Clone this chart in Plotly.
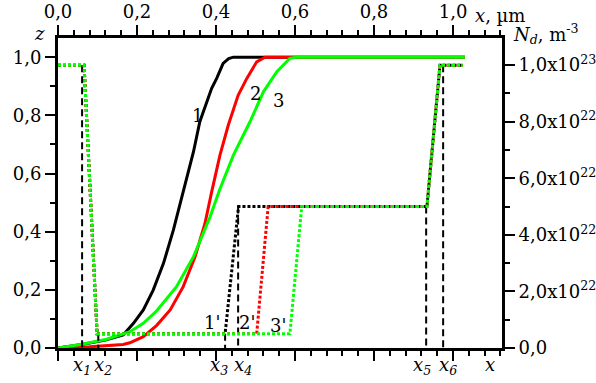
import plotly.graph_objects as go

# z(x) curves (left axis)
x1_curve = [0, 0.06, 0.12, 0.165, 0.191, 0.216, 0.241, 0.267, 0.292, 0.317, 0.343, 0.359, 0.372, 0.389, 0.402, 0.418, 0.432, 0.444, 1.03]
z1_curve = [0, 0.012, 0.027, 0.045, 0.085, 0.131, 0.199, 0.291, 0.405, 0.54, 0.675, 0.778, 0.825, 0.893, 0.928, 0.979, 0.995, 1.0, 1.0]
x2_curve = [0, 0.08, 0.165, 0.182, 0.216, 0.25, 0.284, 0.317, 0.347, 0.372, 0.389, 0.41, 0.431, 0.456, 0.478, 0.503, 0.524, 1.03]
z2_curve = [0, 0.004, 0.012, 0.018, 0.039, 0.078, 0.131, 0.211, 0.314, 0.428, 0.537, 0.663, 0.766, 0.869, 0.927, 0.984, 1.0, 1.0]
x3_curve = [0, 0.064, 0.123, 0.182, 0.216, 0.25, 0.3, 0.343, 0.385, 0.408, 0.444, 0.486, 0.52, 0.554, 0.587, 0.604, 1.03]
z3_curve = [0, 0.014, 0.03, 0.056, 0.085, 0.128, 0.211, 0.314, 0.451, 0.54, 0.663, 0.778, 0.881, 0.95, 0.996, 1.0, 1.0]

# Doping profiles Nd(x) (right axis, m^-3)
xp1 = [0, 0.066, 0.099, 0.423, 0.457, 0.934, 0.967, 1.025]
xp2 = [0, 0.066, 0.099, 0.503, 0.532, 0.934, 0.967, 1.025]
xp3 = [0, 0.066, 0.099, 0.587, 0.617, 0.934, 0.967, 1.025]
nd_prof = [1.0e23, 1.0e23, 5e21, 5e21, 5e22, 5e22, 1.0e23, 1.0e23]

# Marker positions x1..x6 and heights of dashed lines
x_marks = [0.061, 0.102, 0.423, 0.456, 0.932, 0.975]
nd_marks = [1.0e23, 5e21, 5e21, 5e22, 5e22, 1.0e23]
mark_labels = ["1", "2", "3", "4", "5", "6"]
mark_label_x = [0.061, 0.113, 0.408, 0.468, 0.921, 0.988]

curve_labels = ["1", "2", "3"]
curve_label_x = [0.352, 0.499, 0.557]
curve_label_z = [0.80, 0.876, 0.852]
prof_labels = ["1'", "2'", "3'"]
prof_label_x = [0.39, 0.478, 0.557]
prof_label_z = [0.089, 0.086, 0.079]

x_tick_vals = [0, 0.2, 0.4, 0.6, 0.8, 1.0]
y2_vals = [0, 2e22, 4e22, 6e22, 8e22, 1e23]
y2_text = ["0,0", "2,0x10<sup>22</sup>", "4,0x10<sup>22</sup>", "6,0x10<sup>22</sup>",
           "8,0x10<sup>22</sup>", "1,0x10<sup>23</sup>"]

FONT = "DejaVu Serif"
FS = 18
GREEN = "#00ff00"
fig = go.Figure()

# dashed marker lines
for xm, nm in zip(x_marks, nd_marks):
    fig.add_trace(go.Scatter(x=[xm, xm], y=[nm, 0], mode="lines", yaxis="y2",
                             line=dict(color="black", width=2, dash="7px,4px"),
                             showlegend=False, hoverinfo="skip"))

# dotted profiles
for xp, col in [(xp1, "black"), (xp2, "red"), (xp3, GREEN)]:
    fig.add_trace(go.Scatter(x=xp, y=nd_prof, mode="lines", yaxis="y2",
                             line=dict(color=col, width=3, dash="3px,2px"),
                             showlegend=False, hoverinfo="skip"))

# solid curves
for xc, zc, col in [(x1_curve, z1_curve, "black"), (x2_curve, z2_curve, "red"), (x3_curve, z3_curve, GREEN)]:
    fig.add_trace(go.Scatter(x=xc, y=zc, mode="lines",
                             line=dict(color=col, width=3),
                             showlegend=False, hoverinfo="skip"))

tf = dict(family=FONT, size=FS, color="black")
annotations = []
for t, xx, zz in zip(curve_labels + prof_labels, curve_label_x + prof_label_x, curve_label_z + prof_label_z):
    annotations.append(dict(x=xx, y=zz, xref="x", yref="y", text=t, showarrow=False, font=tf))
for xm, lab in zip(mark_label_x, mark_labels):
    annotations.append(dict(x=xm, y=-0.015, xref="x", yref="paper", text="<i>x</i><sub><i>%s</i></sub>" % lab,
                            showarrow=False, yanchor="top", font=tf, borderpad=0))
annotations.append(dict(x=1.094, y=-0.015, xref="x", yref="paper", text="<i>x</i>",
                        showarrow=False, yanchor="top", font=tf, borderpad=0))
annotations.append(dict(x=-0.0586, y=1.015, xref="paper", yref="paper", text="<i>z</i>",
                        yanchor="middle", showarrow=False, font=tf))
annotations.append(dict(x=1.02, y=1.012, xref="paper", yref="paper", xanchor="left", yanchor="middle",
                        text="<i>N</i><sub><i>d</i></sub>, m<sup>-3</sup>",
                        showarrow=False, font=tf))
annotations.append(dict(x=0.935, y=1.073, xref="paper", yref="paper", xanchor="left", yanchor="middle",
                        text="<i>x</i>, µm", showarrow=False, font=tf))

axis_common = dict(showline=True, linecolor="black", linewidth=3, ticks="outside",
                   tickcolor="black", tickwidth=2, ticklen=10, showgrid=False, zeroline=False,
                   automargin=False, tickfont=tf)
minor_common = dict(ticklen=5, tickwidth=2, tickcolor="black", ticks="outside")

fig.update_layout(
    width=596, height=383,
    margin=dict(l=58, r=94, t=38, b=35, pad=0),
    paper_bgcolor="white", plot_bgcolor="white",
    separators=", ",
    showlegend=False,
    annotations=annotations,
    xaxis=dict(range=[0, 1.124], side="top", mirror="ticks",
               tickformat=".1f", tickvals=x_tick_vals,
               minor=dict(dtick=0.04, tick0=0, **minor_common),
               **axis_common),
    yaxis=dict(range=[0, 1.066], dtick=0.2, tick0=0, tickformat=".1f",
               minor=dict(dtick=0.1, tick0=0, **minor_common),
               **axis_common),
    yaxis2=dict(range=[0, 1.096e23], overlaying="y", side="right",
                tickvals=y2_vals, ticktext=y2_text,
                minor=dict(tickvals=[1e22, 3e22, 5e22, 7e22, 9e22], **minor_common),
                **axis_common),
)

fig.write_html("out.html")
